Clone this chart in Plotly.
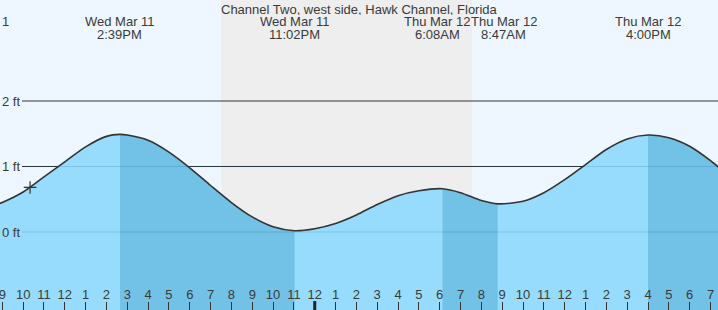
import plotly.graph_objects as go
import pandas as pd

# ---- data ----
curve_times = [
    "2026-03-11 08:50", "2026-03-11 09:00", "2026-03-11 10:00", "2026-03-11 11:00",
    "2026-03-11 12:00", "2026-03-11 13:00", "2026-03-11 14:00", "2026-03-11 14:39",
    "2026-03-11 15:00", "2026-03-11 16:00", "2026-03-11 17:00", "2026-03-11 18:00",
    "2026-03-11 19:00", "2026-03-11 20:00", "2026-03-11 21:00", "2026-03-11 22:00",
    "2026-03-11 23:02", "2026-03-12 00:00", "2026-03-12 01:00", "2026-03-12 02:00",
    "2026-03-12 03:00", "2026-03-12 04:00", "2026-03-12 05:00", "2026-03-12 06:08",
    "2026-03-12 07:00", "2026-03-12 08:00", "2026-03-12 08:47",
    "2026-03-12 10:00", "2026-03-12 11:00", "2026-03-12 12:00", "2026-03-12 13:00",
    "2026-03-12 14:00", "2026-03-12 15:00", "2026-03-12 16:00", "2026-03-12 17:00",
    "2026-03-12 18:00", "2026-03-12 19:00", "2026-03-12 19:30",
]
curve_heights = [
    0.43, 0.45, 0.61, 0.84,
    1.07, 1.30, 1.46, 1.49,
    1.48, 1.40, 1.22, 0.98,
    0.71, 0.45, 0.23, 0.08,
    0.02, 0.05, 0.13, 0.26,
    0.42, 0.555, 0.63, 0.66,
    0.60, 0.48, 0.43,
    0.47, 0.60, 0.80, 1.03,
    1.26, 1.42, 1.48, 1.44,
    1.31, 1.09, 0.96,
]

# falling-tide (darker) spans: high -> following low
falling_spans = [
    ("2026-03-11 14:39", "2026-03-11 23:02"),
    ("2026-03-12 06:08", "2026-03-12 08:47"),
    ("2026-03-12 16:00", "2026-03-12 19:30"),
]

event_times = ["2026-03-11 14:39", "2026-03-11 23:02", "2026-03-12 06:08",
               "2026-03-12 08:47", "2026-03-12 16:00"]
event_days = ["Wed Mar 11", "Wed Mar 11", "Thu Mar 12", "Thu Mar 12", "Thu Mar 12"]
event_clock = ["2:39PM", "11:02PM", "6:08AM", "8:47AM", "4:00PM"]
event_nudge = [0, 0, -5, 6, 0]  # px shift used to keep neighbouring labels apart

night_start = "2026-03-11 19:30"
night_end = "2026-03-12 07:33"
now_time = "2026-03-11 10:20"
now_height = 0.68

y_levels = [2, 1, 0]
y_labels = ["2 ft", "1 ft", "0 ft"]

tick_times = list(pd.date_range("2026-03-11 09:00", "2026-03-12 19:00", freq="h"))
tick_labels = ["9", "10", "11", "12", "1", "2", "3", "4", "5", "6", "7", "8", "9", "10", "11",
               "12", "1", "2", "3", "4", "5", "6", "7", "8", "9", "10", "11",
               "12", "1", "2", "3", "4", "5", "6", "7"]
midnight = "2026-03-12 00:00"
title_text = "Channel Two, west side, Hawk Channel, Florida"

# ---- styling ----
FONT = "Liberation Sans, Arial, sans-serif"
TXT = "#3a3a3a"
DAY = "#eef7ff"
NIGHT = "#eeeeee"
WATER = "#97dcfd"
WATER_DARK = "#72c1e6"
X_RANGE = ["2026-03-11 08:53:23", "2026-03-12 19:21:36"]
Y_RANGE = [-1.191, 3.542]
BASE = -3

ts = pd.to_datetime(pd.Series(curve_times))
hs = pd.Series(curve_heights)
LINE_SHAPE = dict(shape="spline", smoothing=0.8)

fig = go.Figure()
# light water
fig.add_trace(go.Scatter(x=[ts.iloc[0], ts.iloc[-1]], y=[BASE, BASE], mode="lines",
                         line=dict(width=0), hoverinfo="skip", showlegend=False))
fig.add_trace(go.Scatter(x=ts, y=hs, mode="lines", line=dict(width=0, **LINE_SHAPE),
                         fill="tonexty", fillcolor=WATER, hoverinfo="skip", showlegend=False))
# darker falling-tide bands
for a, b in falling_spans:
    m = (ts >= pd.Timestamp(a)) & (ts <= pd.Timestamp(b))
    sx, sy = ts[m], hs[m]
    fig.add_trace(go.Scatter(x=[sx.iloc[0], sx.iloc[-1]], y=[BASE, BASE], mode="lines",
                             line=dict(width=0), hoverinfo="skip", showlegend=False))
    fig.add_trace(go.Scatter(x=sx, y=sy, mode="lines", line=dict(width=0, **LINE_SHAPE),
                             fill="tonexty", fillcolor=WATER_DARK, hoverinfo="skip",
                             showlegend=False))
# tide curve
fig.add_trace(go.Scatter(x=ts, y=hs, mode="lines", line=dict(color="#333333", width=1.6, **LINE_SHAPE),
                         showlegend=False))
# current-time marker
fig.add_trace(go.Scatter(x=[now_time], y=[now_height], mode="markers",
                         marker=dict(symbol="cross-thin", size=9, line=dict(color="#333333", width=1.2)),
                         showlegend=False))

shapes = [dict(type="rect", xref="x", yref="paper", x0=night_start, x1=night_end, y0=0, y1=1,
               fillcolor=NIGHT, line=dict(width=0), layer="below")]
for lv in y_levels:
    shapes.append(dict(type="line", xref="paper", yref="y", x0=22 / 718, x1=1, y0=lv, y1=lv,
                       line=dict(color="#333333", width=1), layer="below"))
for lv in y_levels[1:]:
    shapes.append(dict(type="line", xref="paper", yref="y", x0=22 / 718, x1=1, y0=lv, y1=lv,
                       line=dict(color="rgba(0,70,120,0.16)", width=1), layer="above"))
shapes.append(dict(type="line", xref="x", yref="paper", x0=midnight, x1=midnight, y0=0, y1=9 / 310,
                   line=dict(color="#222222", width=3), layer="above"))

font = dict(size=13, color=TXT, family=FONT)
common = dict(showarrow=False, font=font, borderpad=0, height=12)
annotations = [dict(text=title_text, xref="paper", yref="paper", x=0.5, y=1, yanchor="top",
                    yshift=-2, **common)]
for t, d, c, n in zip(event_times, event_days, event_clock, event_nudge):
    annotations.append(dict(text=d, xref="x", yref="paper", x=t, y=1, yanchor="top",
                            xshift=n, yshift=-14, **common))
    annotations.append(dict(text=c, xref="x", yref="paper", x=t, y=1, yanchor="top",
                            xshift=n, yshift=-26.5, **common))
annotations.append(dict(text="1", xref="paper", yref="paper", x=0, y=1, xanchor="left", yanchor="top",
                        xshift=1, yshift=-14, **common))
for lv, lab in zip(y_levels, y_labels):
    annotations.append(dict(text=lab, xref="paper", yref="y", x=0, y=lv, xanchor="left",
                            xshift=1, **common))

fig.update_layout(
    width=718, height=310, margin=dict(l=0, r=0, t=0, b=0),
    paper_bgcolor=DAY, plot_bgcolor=DAY,
    shapes=shapes, annotations=annotations, showlegend=False,
    xaxis=dict(range=X_RANGE, type="date", showgrid=False, zeroline=False, showline=False,
               tickvals=tick_times, ticktext=tick_labels, ticks="inside", ticklen=8,
               tickcolor="#333333", tickwidth=1, ticklabelposition="inside",
               ticklabeloverflow="allow",
               tickfont=font),
    yaxis=dict(range=Y_RANGE, showgrid=False, zeroline=False, showticklabels=False, showline=False),
)
fig.write_html("out.html")
